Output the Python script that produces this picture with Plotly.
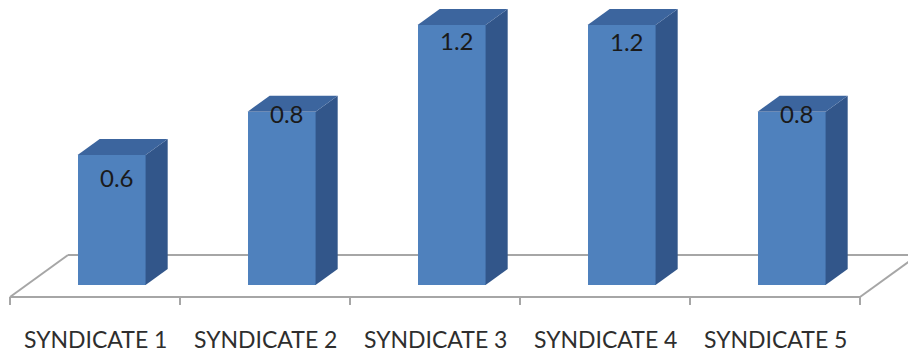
import plotly.graph_objects as go

# ---- data ----
categories = ["SYNDICATE 1", "SYNDICATE 2", "SYNDICATE 3", "SYNDICATE 4", "SYNDICATE 5"]
values = [0.6, 0.8, 1.2, 1.2, 0.8]

# ---- pseudo-3D geometry (in axis units) ----
XS, YS = 0.3412, 0.1938        # screen shift of one unit of depth (x, y)
FRONT, BACK = 0.286, 0.667     # depth of bar front / back faces on the floor
BAR_W = 0.40                   # width of the bar front face
TICK = 0.037                   # length of the category tick marks

FRONT_C = "#4F81BD"
TOP_C = "#3C659E"
SIDE_C = "#32568A"
FLOOR_C = "#A6A6A6"

# per-bar vertical nudge of the value labels (pixels)
label_drop = [23, 2, 16, 17, 2]

n = len(categories)
xs = list(range(n))


def proj(x, v, d):
    return x + d * XS, v + d * YS


fig = go.Figure()

# front faces as real bars
fx = [proj(i, 0, FRONT)[0] for i in xs]
base = FRONT * YS
fig.add_trace(go.Bar(
    x=fx, y=values, base=[base] * n, width=BAR_W,
    marker=dict(color=FRONT_C, line=dict(width=0)),
    hoverinfo="skip", showlegend=False,
))

# side and top faces derived from the same values
for i, v in zip(xs, values):
    xl = i - BAR_W / 2
    xr = i + BAR_W / 2
    p1 = proj(xr, 0, FRONT)
    p2 = proj(xr, 0, BACK)
    p3 = proj(xr, v, BACK)
    p4 = proj(xr, v, FRONT)
    fig.add_trace(go.Scatter(
        x=[p1[0], p2[0], p3[0], p4[0], p1[0]],
        y=[p1[1], p2[1], p3[1], p4[1], p1[1]],
        fill="toself", fillcolor=SIDE_C, mode="lines", line=dict(width=0),
        hoverinfo="skip", showlegend=False,
    ))
    q1 = proj(xl, v, FRONT)
    q2 = proj(xr, v, FRONT)
    q3 = proj(xr, v, BACK)
    q4 = proj(xl, v, BACK)
    fig.add_trace(go.Scatter(
        x=[q1[0], q2[0], q3[0], q4[0], q1[0]],
        y=[q1[1], q2[1], q3[1], q4[1], q1[1]],
        fill="toself", fillcolor=TOP_C, mode="lines", line=dict(width=0),
        hoverinfo="skip", showlegend=False,
    ))

# floor outline and tick marks, kept beneath the bars
x0, x1 = -0.5, n - 0.5
floor = [
    (proj(x0, 0, 0), proj(x1, 0, 0)),
    (proj(x0, 0, 0), proj(x0, 0, 1)),
    (proj(x0, 0, 1), proj(x1, 0, 1)),
    (proj(x1, 0, 0), proj(x1, 0, 1)),
]
shapes = []
for a, b in floor:
    shapes.append(dict(type="line", xref="x", yref="y", layer="below",
                       x0=a[0], y0=a[1], x1=b[0], y1=b[1],
                       line=dict(color=FLOOR_C, width=2)))
for k in range(n + 1):
    shapes.append(dict(type="line", xref="x", yref="y", layer="below",
                       x0=k - 0.5, y0=0, x1=k - 0.5, y1=-TICK,
                       line=dict(color=FLOOR_C, width=2)))

annotations = []
# value labels near the top of each bar
for i, v, drop in zip(xs, values, label_drop):
    cx, cy = proj(i, v, FRONT)
    annotations.append(dict(
        x=cx, y=cy, xref="x", yref="y", text=f"{v}",
        showarrow=False, xshift=5, yshift=-drop,
        font=dict(family="Lato, Liberation Sans, sans-serif", size=24, color="#1A1A1A"),
    ))
# category labels
for i, c in zip(xs, categories):
    annotations.append(dict(
        x=i, y=-0.196, xref="x", yref="y", text=c, showarrow=False,
        font=dict(family="Lato, Liberation Sans, sans-serif", size=23, color="#2E2E2E"),
    ))

fig.update_layout(
    width=908, height=355,
    margin=dict(l=0, r=0, t=0, b=0),
    paper_bgcolor="white", plot_bgcolor="white",
    xaxis=dict(range=[-95 / 170, (908 - 95) / 170], visible=False, fixedrange=True),
    yaxis=dict(range=[-58 / 216.7, 297 / 216.7], visible=False, fixedrange=True),
    shapes=shapes, annotations=annotations,
    showlegend=False, bargap=0,
)

fig.write_html("out.html", config={"displayModeBar": False})
